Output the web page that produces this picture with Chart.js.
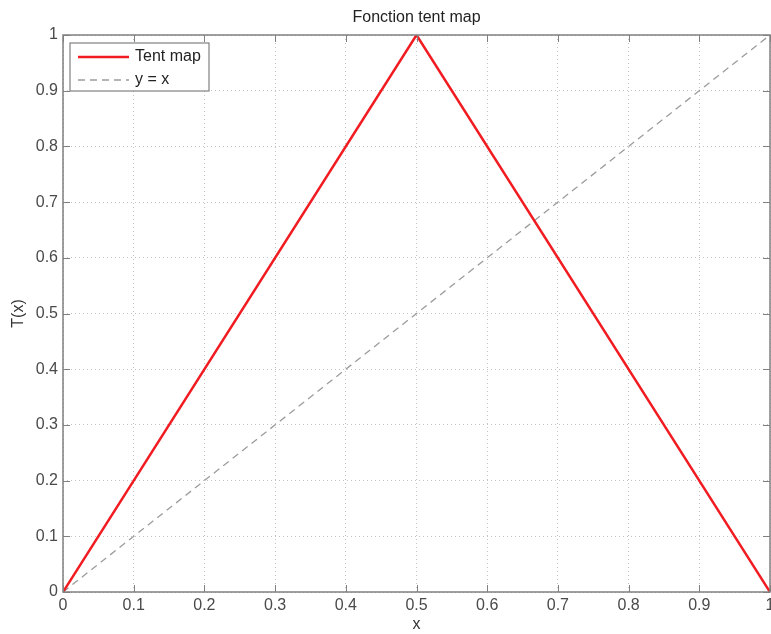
<!DOCTYPE html>
<html><head><meta charset="utf-8">
<script src="https://cdn.jsdelivr.net/npm/chart.js@4"></script>
<style>html,body{margin:0;padding:0;background:#fff}#wrap{width:771px;height:634px}</style>
</head><body><div id="wrap"><canvas id="c" width="771" height="634"></canvas></div>
<script>
const chartTitle = 'Fonction tent map';
const xAxisTitle = 'x';
const yAxisTitle = 'T(x)';
const seriesLabels = ['Tent map', 'y = x'];
const tentX = [0, 0.5, 1];
const tentY = [0, 1, 0];
const identityX = [0, 1];
const identityY = [0, 1];
const xTickValues = [0, 0.1, 0.2, 0.3, 0.4, 0.5, 0.6, 0.7, 0.8, 0.9, 1];
const xTickLabels = ['0', '0.1', '0.2', '0.3', '0.4', '0.5', '0.6', '0.7', '0.8', '0.9', '1'];
const yTickValues = [0, 0.1, 0.2, 0.3, 0.4, 0.5, 0.6, 0.7, 0.8, 0.9, 1];
const yTickLabels = ['0', '0.1', '0.2', '0.3', '0.4', '0.5', '0.6', '0.7', '0.8', '0.9', '1'];

const FONT = "'Liberation Sans', Arial, Helvetica, sans-serif";
const RED = 'rgb(240,28,34)';
const GRAYDASH = '#9c9c9c';
const AXIS = '#808080';

const matlabFrame = {
  id: 'matlabFrame',
  afterDraw(chart) {
    const { ctx, chartArea: a, scales: { x, y } } = chart;
    ctx.save();
    // title centred over the plot area
    ctx.fillStyle = '#222';
    ctx.font = '16px ' + FONT;
    ctx.textAlign = 'center';
    ctx.textBaseline = 'middle';
    ctx.fillText(chartTitle, (a.left + a.right) / 2, a.top - 17);

    ctx.strokeStyle = AXIS;
    ctx.lineWidth = 1;
    ctx.beginPath();
    xTickValues.forEach(v => {
      const px = Math.round(x.getPixelForValue(v)) + 0.5;
      ctx.moveTo(px, a.bottom); ctx.lineTo(px, a.bottom - 7);
      ctx.moveTo(px, a.top); ctx.lineTo(px, a.top + 7);
    });
    yTickValues.forEach(v => {
      const py = Math.round(y.getPixelForValue(v)) + 0.5;
      ctx.moveTo(a.left, py); ctx.lineTo(a.left + 7, py);
      ctx.moveTo(a.right, py); ctx.lineTo(a.right - 7, py);
    });
    ctx.stroke();
    ctx.lineWidth = 1.5;
    ctx.strokeRect(a.left, a.top, a.right - a.left, a.bottom - a.top);

    // legend box
    const bx = a.left + 7, by = a.top + 8, bw = 139, bh = 48;
    ctx.fillStyle = '#fff';
    ctx.fillRect(bx, by, bw, bh);
    ctx.lineWidth = 1.2;
    ctx.strokeStyle = AXIS;
    ctx.strokeRect(bx, by, bw, bh);
    const ds = chart.data.datasets;
    const rows = [by + 14, by + 37];
    ds.forEach((d, i) => {
      ctx.beginPath();
      ctx.strokeStyle = d.borderColor;
      ctx.lineWidth = d.borderWidth;
      ctx.setLineDash(d.borderDash || []);
      ctx.moveTo(bx + 8, rows[i]); ctx.lineTo(bx + 59, rows[i]);
      ctx.stroke();
      ctx.setLineDash([]);
      ctx.fillStyle = '#222';
      ctx.font = '16px ' + FONT;
      ctx.textBaseline = 'middle';
      ctx.textAlign = 'left';
      ctx.fillText(d.label, bx + 65, rows[i]);
    });
    ctx.restore();
  }
};

function toPoints(xs, ys) { return xs.map((v, i) => ({ x: v, y: ys[i] })); }

new Chart(document.getElementById('c'), {
  type: 'scatter',
  data: {
    datasets: [
      { label: seriesLabels[0], data: toPoints(tentX, tentY), showLine: true, borderColor: RED, backgroundColor: RED, borderWidth: 2.5, pointRadius: 0, order: 1 },
      { label: seriesLabels[1], data: toPoints(identityX, identityY), showLine: true, borderColor: GRAYDASH, backgroundColor: GRAYDASH, borderWidth: 1.3, borderDash: [7, 5], pointRadius: 0, order: 2 }
    ]
  },
  options: {
    responsive: false,
    animation: false,
    devicePixelRatio: 1,
    layout: { padding: { left: 0, right: 1, top: 35, bottom: 0 } },
    plugins: {
      legend: { display: false },
      tooltip: { enabled: false },
      title: { display: false }
    },
    scales: {
      x: {
        type: 'linear', min: 0, max: 1,
        afterBuildTicks: s => { s.ticks = xTickValues.map(v => ({ value: v })); },
        afterFit: s => { s.height = 42; s.paddingLeft = 0; s.paddingRight = 0; },
        ticks: { color: '#4a4a4a', font: { family: FONT, size: 16 }, padding: 4, maxRotation: 0, autoSkip: false, callback: (v, i) => xTickLabels[i] },
        grid: { color: '#c4c4c4', drawTicks: false, lineWidth: 1 },
        border: { display: false, dash: [1, 3] },
        title: { display: true, text: xAxisTitle, color: '#333', font: { family: FONT, size: 16 }, padding: { top: 0, bottom: 0 } }
      },
      y: {
        type: 'linear', min: 0, max: 1,
        afterBuildTicks: s => { s.ticks = yTickValues.map(v => ({ value: v })); },
        afterFit: s => { s.width = 63; s.paddingTop = 0; s.paddingBottom = 0; },
        ticks: { color: '#4a4a4a', font: { family: FONT, size: 16 }, padding: 5, autoSkip: false, callback: (v, i) => yTickLabels[i] },
        grid: { color: '#c4c4c4', drawTicks: false, lineWidth: 1 },
        border: { display: false, dash: [1, 3] },
        title: { display: true, text: yAxisTitle, color: '#333', font: { family: FONT, size: 16 }, padding: { top: 9, bottom: 0 } }
      }
    }
  },
  plugins: [matlabFrame]
});
</script></body></html>
